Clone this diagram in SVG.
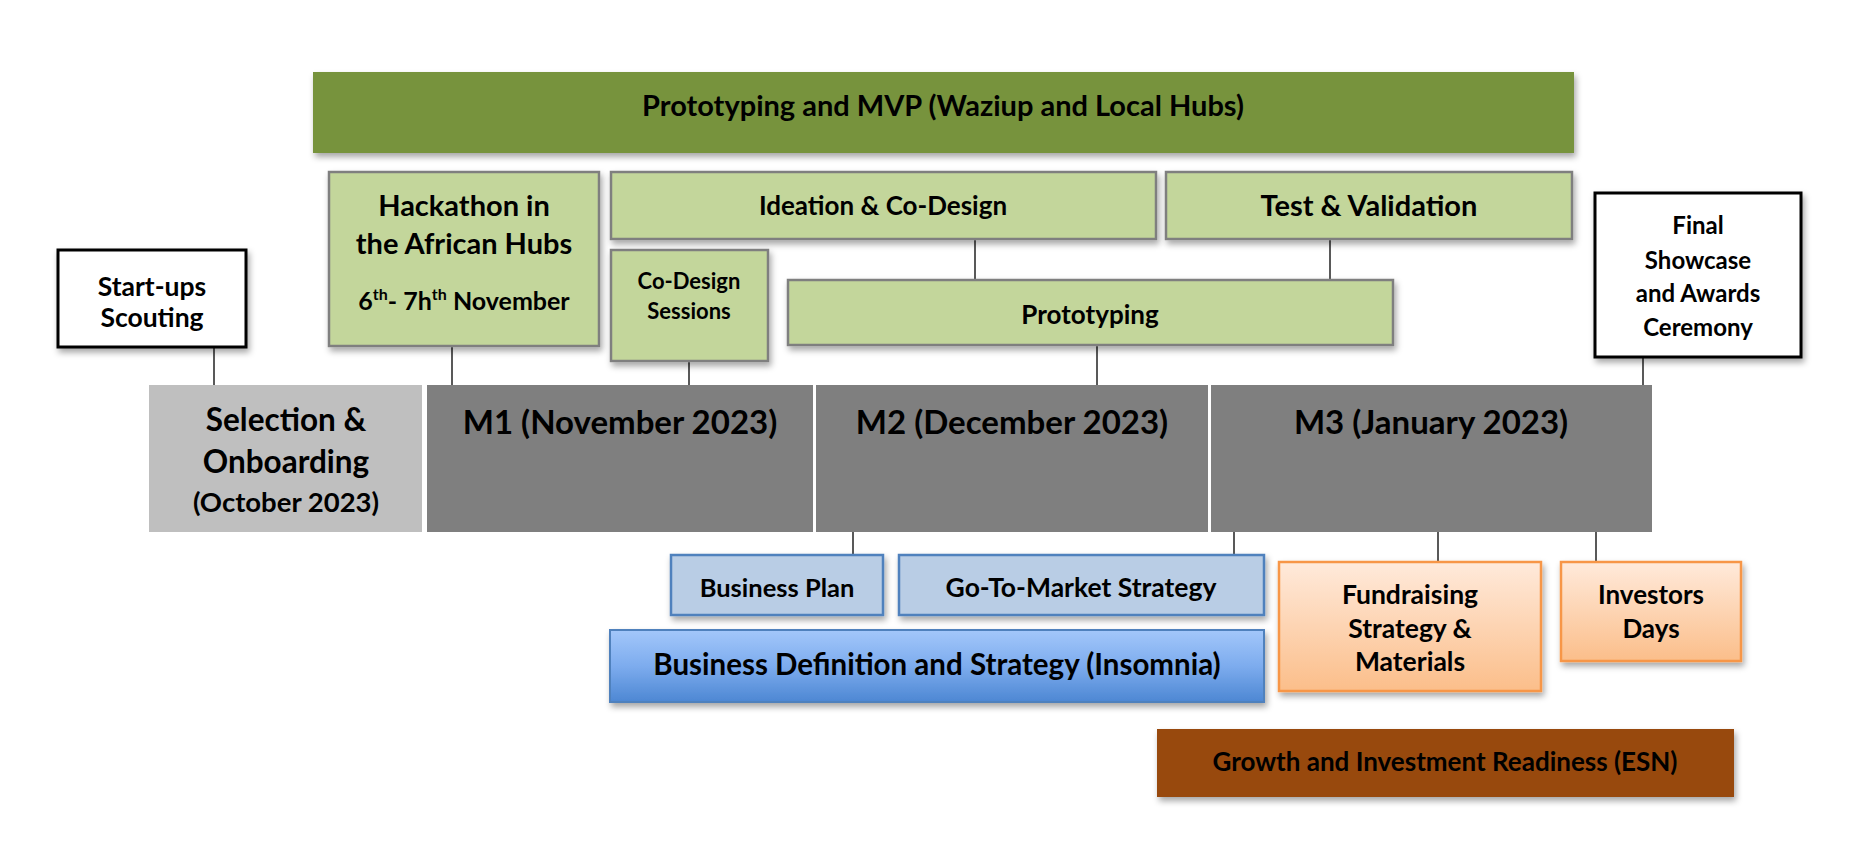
<svg xmlns="http://www.w3.org/2000/svg" width="1875" height="850" viewBox="0 0 1875 850">
<defs>
<filter id="sh" x="-10%" y="-20%" width="120%" height="150%">
<feDropShadow dx="2" dy="4" stdDeviation="3" flood-color="#000" flood-opacity="0.35"/>
</filter>
<linearGradient id="gBlue" x1="0" y1="0" x2="0" y2="1">
<stop offset="0" stop-color="#A3C7FA"/>
<stop offset="0.5" stop-color="#7DACEE"/>
<stop offset="1" stop-color="#4D87D3"/>
</linearGradient>
<linearGradient id="gOrange" x1="0" y1="0" x2="0" y2="1">
<stop offset="0" stop-color="#FFEADB"/>
<stop offset="1" stop-color="#FBBE8A"/>
</linearGradient>
</defs>
<style>
text{font-family:Lato,"Liberation Sans",sans-serif;font-weight:bold;fill:#000;text-anchor:middle}
.lg{fill:#C3D69B;stroke:#7F7F7F;stroke-width:2.5;filter:url(#sh)}
.wb{fill:#fff;stroke:#000;stroke-width:3;filter:url(#sh)}
.mo{fill:#7F7F7F}
.bl{fill:#B9CDE5;stroke:#4F81BD;stroke-width:2.5;filter:url(#sh)}
.or{fill:url(#gOrange);stroke:#F79646;stroke-width:2.5;filter:url(#sh)}
.conn line{stroke:#595959;stroke-width:2}
</style>
<rect width="1875" height="850" fill="#fff"/>

<g id="connectors" class="conn">
<line x1="214" y1="347" x2="214" y2="385"/>
<line x1="452" y1="346" x2="452" y2="385"/>
<line x1="689" y1="361" x2="689" y2="385"/>
<line x1="975" y1="239" x2="975" y2="280"/>
<line x1="1330" y1="239" x2="1330" y2="280"/>
<line x1="1097" y1="345" x2="1097" y2="385"/>
<line x1="1643" y1="357" x2="1643" y2="385"/>
<line x1="853" y1="532" x2="853" y2="555"/>
<line x1="1234" y1="532" x2="1234" y2="555"/>
<line x1="1438" y1="532" x2="1438" y2="562"/>
<line x1="1596" y1="532" x2="1596" y2="562"/>
</g>

<g id="prototyping-mvp">
<rect x="313" y="72" width="1261" height="81" fill="#77933C" filter="url(#sh)"/>
<text x="943" y="116" font-size="29">Prototyping and MVP (Waziup and Local Hubs)</text>
</g>

<g id="hackathon">
<rect class="lg" x="329" y="172" width="270" height="174"/>
<text x="464" y="216" font-size="29">Hackathon in</text>
<text x="464" y="254" font-size="29">the African Hubs</text>
<text x="464" y="310" font-size="25">6<tspan font-size="16" dy="-10">th</tspan><tspan dy="10">- 7h</tspan><tspan font-size="16" dy="-10">th</tspan><tspan dy="10"> November</tspan></text>
</g>

<g id="ideation">
<rect class="lg" x="611" y="172" width="545" height="67"/>
<text x="883" y="215" font-size="26">Ideation &amp; Co-Design</text>
</g>

<g id="test-validation">
<rect class="lg" x="1166" y="172" width="406" height="67"/>
<text x="1369" y="216" font-size="29">Test &amp; Validation</text>
</g>

<g id="co-design-sessions">
<rect class="lg" x="611" y="250" width="157" height="111"/>
<text x="689" y="289" font-size="22">Co-Design</text>
<text x="689" y="319" font-size="22">Sessions</text>
</g>

<g id="prototyping">
<rect class="lg" x="788" y="280" width="605" height="65"/>
<text x="1090" y="324" font-size="26">Prototyping</text>
</g>

<g id="startups-scouting">
<rect class="wb" x="58" y="250" width="188" height="97"/>
<text x="152" y="296" font-size="26.5">Start-ups</text>
<text x="152" y="327" font-size="26.5">Scouting</text>
</g>

<g id="final-showcase">
<rect class="wb" x="1595" y="193" width="206" height="164"/>
<text x="1698" y="234" font-size="24">Final</text>
<text x="1698" y="269" font-size="24">Showcase</text>
<text x="1698" y="302" font-size="24">and Awards</text>
<text x="1698" y="336" font-size="24">Ceremony</text>
</g>

<g id="selection">
<rect x="149" y="385" width="273" height="147" fill="#BFBFBF"/>
<text x="286" y="431" font-size="31.5">Selection &amp;</text>
<text x="286" y="473" font-size="31.5">Onboarding</text>
<text x="286" y="512" font-size="27.5">(October 2023)</text>
</g>

<g id="m1">
<rect class="mo" x="427" y="385" width="386" height="147"/>
<text x="620" y="434" font-size="33">M1 (November 2023)</text>
</g>

<g id="m2">
<rect class="mo" x="816" y="385" width="392" height="147"/>
<text x="1012" y="434" font-size="33">M2 (December 2023)</text>
</g>

<g id="m3">
<rect class="mo" x="1211" y="385" width="441" height="147"/>
<text x="1431" y="434" font-size="33">M3 (January 2023)</text>
</g>

<g id="business-plan">
<rect class="bl" x="671" y="555" width="212" height="60"/>
<text x="777" y="597" font-size="25.5">Business Plan</text>
</g>

<g id="go-to-market">
<rect class="bl" x="899" y="555" width="365" height="60"/>
<text x="1081" y="597" font-size="26.5">Go-To-Market Strategy</text>
</g>

<g id="business-definition">
<rect x="610" y="630" width="654" height="72" fill="url(#gBlue)" stroke="#4F81BD" stroke-width="2" filter="url(#sh)"/>
<text x="937" y="675" font-size="29.5">Business Definition and Strategy (Insomnia)</text>
</g>

<g id="fundraising">
<rect class="or" x="1279" y="562" width="262" height="129"/>
<text x="1410" y="604" font-size="26.5">Fundraising</text>
<text x="1410" y="638" font-size="26.5">Strategy  &amp;</text>
<text x="1410" y="671" font-size="26.5">Materials</text>
</g>

<g id="investors-days">
<rect class="or" x="1561" y="562" width="180" height="99"/>
<text x="1651" y="604" font-size="26">Investors</text>
<text x="1651" y="638" font-size="26">Days</text>
</g>

<g id="growth">
<rect x="1157" y="729" width="577" height="68" fill="#984807" filter="url(#sh)"/>
<text x="1445" y="771" font-size="26">Growth and Investment Readiness (ESN)</text>
</g>
</svg>
